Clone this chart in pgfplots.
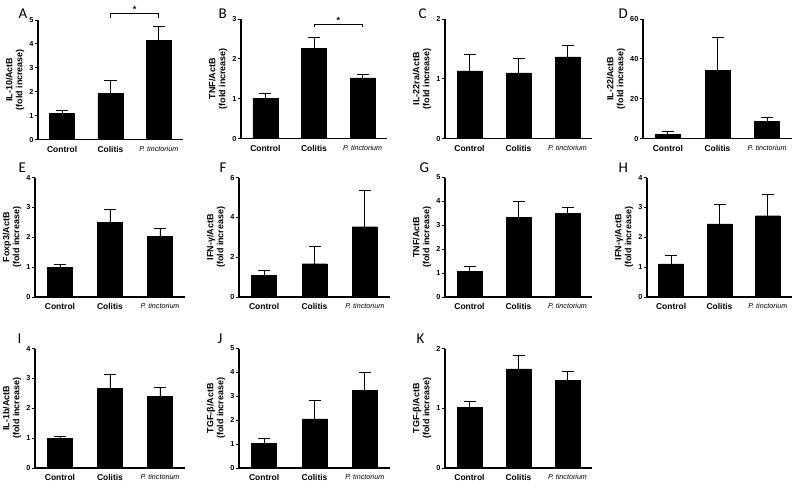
\documentclass[border=0pt]{standalone}
\usepackage{fontspec}
\setmainfont{Liberation Sans}
\newfontfamily\letterfont{Carlito}
\usepackage{pgfplots}
\pgfplotsset{compat=1.18}
\pgfplotsset{
 panel/.style={
  scale only axis, height=119.5bp,
  axis lines=left, axis line style={-, line width=1.2pt},
  xmin=-0.5, xmax=2.5, ymin=0,
  xtick={0,1,2},
  xticklabels={{\fontsize{8.5}{9}\bfseries Control},{\fontsize{8.5}{9}\bfseries Colitis},{\fontsize{7.2}{8}\selectfont\itshape P. tinctorium}},
  xtick style={draw=none},
  ytick style={line width=1pt, black}, tick align=outside, major tick length=3bp,
  /pgf/number format/assume math mode=true,
  yticklabel style={font=\fontsize{7.3}{7.5}\bfseries\selectfont, inner sep=1.5pt},
  ylabel style={font=\fontsize{9}{10}\bfseries\selectfont, align=center},
  clip=false,
  anchor=south west,
 },
 bars/.style={ybar, bar width=25bp, fill=black, draw=black,
   error bars/.cd, y dir=plus, y explicit,
   error bar style={line width=0.8pt, black},
   error mark options={rotate=90, mark size=6bp, line width=0.8pt, black}},
}
\newcommand\plabel[3]{\node[anchor=base west, font=\fontsize{15}{15}\letterfont] at (#1bp,-#2bp) {#3};}
\begin{document}
\begin{tikzpicture}
\useasboundingbox (0,0) rectangle (797bp,-492bp);
% A
\begin{axis}[panel, at={(38bp,-139.5bp)}, width=145bp, ymax=5, ytick={0,1,2,3,4,5}, ylabel={IL-10/ActB\\(fold increase)}]
\addplot[bars] coordinates {(0,1.08) +- (0,0.14) (1,1.94) +- (0,0.53) (2,4.14) +- (0,0.61)};
\draw[line width=1pt] (axis cs:1,5.07) -- (axis cs:1,5.28) -- (axis cs:2,5.28) -- (axis cs:2,5.07);
\node[font=\fontsize{9}{9}\bfseries\selectfont, anchor=base] at (axis cs:1.5,5.3) {*};
\end{axis}
% B
\begin{axis}[panel, at={(241bp,-138.5bp)}, width=146bp, ymax=3, ytick={0,1,2,3}, ylabel={TNF/ActB\\(fold increase)}]
\addplot[bars] coordinates {(0,1.01) +- (0,0.11) (1,2.27) +- (0,0.28) (2,1.52) +- (0,0.08)};
\draw[line width=1pt] (axis cs:1,2.79) -- (axis cs:1,2.87) -- (axis cs:2,2.87) -- (axis cs:2,2.79);
\node[font=\fontsize{9}{9}\bfseries\selectfont, anchor=base] at (axis cs:1.5,2.88) {*};
\end{axis}
% C
\begin{axis}[panel, at={(445bp,-138.5bp)}, width=147bp, ymax=2, ytick={0,1,2}, ylabel={IL-22ra/ActB\\(fold increase)}]
\addplot[bars] coordinates {(0,1.13) +- (0,0.27) (1,1.10) +- (0,0.24) (2,1.365) +- (0,0.185)};
\end{axis}
% D
\begin{axis}[panel, at={(643bp,-138.5bp)}, width=149bp, ymax=60, ytick={0,20,40,60}, ylabel={IL-22/ActB\\(fold increase)}]
\addplot[bars] coordinates {(0,2.2) +- (0,1.3) (1,34.1) +- (0,16.8) (2,8.6) +- (0,2.0)};
\end{axis}
% E
\begin{axis}[panel, at={(35bp,-297bp)}, width=150bp, ymax=4, ytick={0,1,2,3,4}, ylabel={Foxp3/ActB\\(fold increase)}]
\addplot[bars] coordinates {(0,1.0) +- (0,0.1) (1,2.49) +- (0,0.44) (2,2.04) +- (0,0.24)};
\end{axis}
% F
\begin{axis}[panel, at={(239bp,-297bp)}, width=151bp, ymax=6, ytick={0,2,4,6}, ylabel={IFN-γ/ActB\\(fold increase)}]
\addplot[bars] coordinates {(0,1.1) +- (0,0.22) (1,1.67) +- (0,0.86) (2,3.53) +- (0,1.8)};
\end{axis}
% G
\begin{axis}[panel, at={(445bp,-297bp)}, width=147bp, ymax=5, ytick={0,1,2,3,4,5}, ylabel={TNF/ActB\\(fold increase)}]
\addplot[bars] coordinates {(0,1.06) +- (0,0.2) (1,3.33) +- (0,0.67) (2,3.49) +- (0,0.27)};
\end{axis}
% H
\begin{axis}[panel, at={(647bp,-297bp)}, width=145bp, ymax=4, ytick={0,1,2,3,4}, ylabel={IFN-γ/ActB\\(fold increase)}]
\addplot[bars] coordinates {(0,1.11) +- (0,0.29) (1,2.45) +- (0,0.64) (2,2.72) +- (0,0.70)};
\end{axis}
% I
\begin{axis}[panel, at={(35bp,-468bp)}, width=150bp, ymax=4, ytick={0,1,2,3,4}, ylabel={IL-1b/ActB\\(fold increase)}]
\addplot[bars] coordinates {(0,0.99) +- (0,0.08) (1,2.66) +- (0,0.49) (2,2.39) +- (0,0.30)};
\end{axis}
% J
\begin{axis}[panel, at={(239bp,-468bp)}, width=151bp, ymax=5, ytick={0,1,2,3,4,5}, ylabel={TGF-β/ActB\\(fold increase)}]
\addplot[bars] coordinates {(0,1.04) +- (0,0.20) (1,2.06) +- (0,0.75) (2,3.24) +- (0,0.78)};
\end{axis}
% K
\begin{axis}[panel, at={(445bp,-468bp)}, width=147bp, ymax=2, ytick={0,1,2}, ylabel={TGF-β/ActB\\(fold increase)}]
\addplot[bars] coordinates {(0,1.01) +- (0,0.10) (1,1.66) +- (0,0.23) (2,1.47) +- (0,0.15)};
\end{axis}
\plabel{15}{18}{A}
\plabel{215}{18}{B}
\plabel{415}{18}{C}
\plabel{615}{18}{D}
\plabel{15}{172}{E}
\plabel{216}{172}{F}
\plabel{416}{172}{G}
\plabel{615}{172}{H}
\plabel{14}{343}{I}
\plabel{214}{343}{J}
\plabel{413}{343}{K}
\end{tikzpicture}
\end{document}
